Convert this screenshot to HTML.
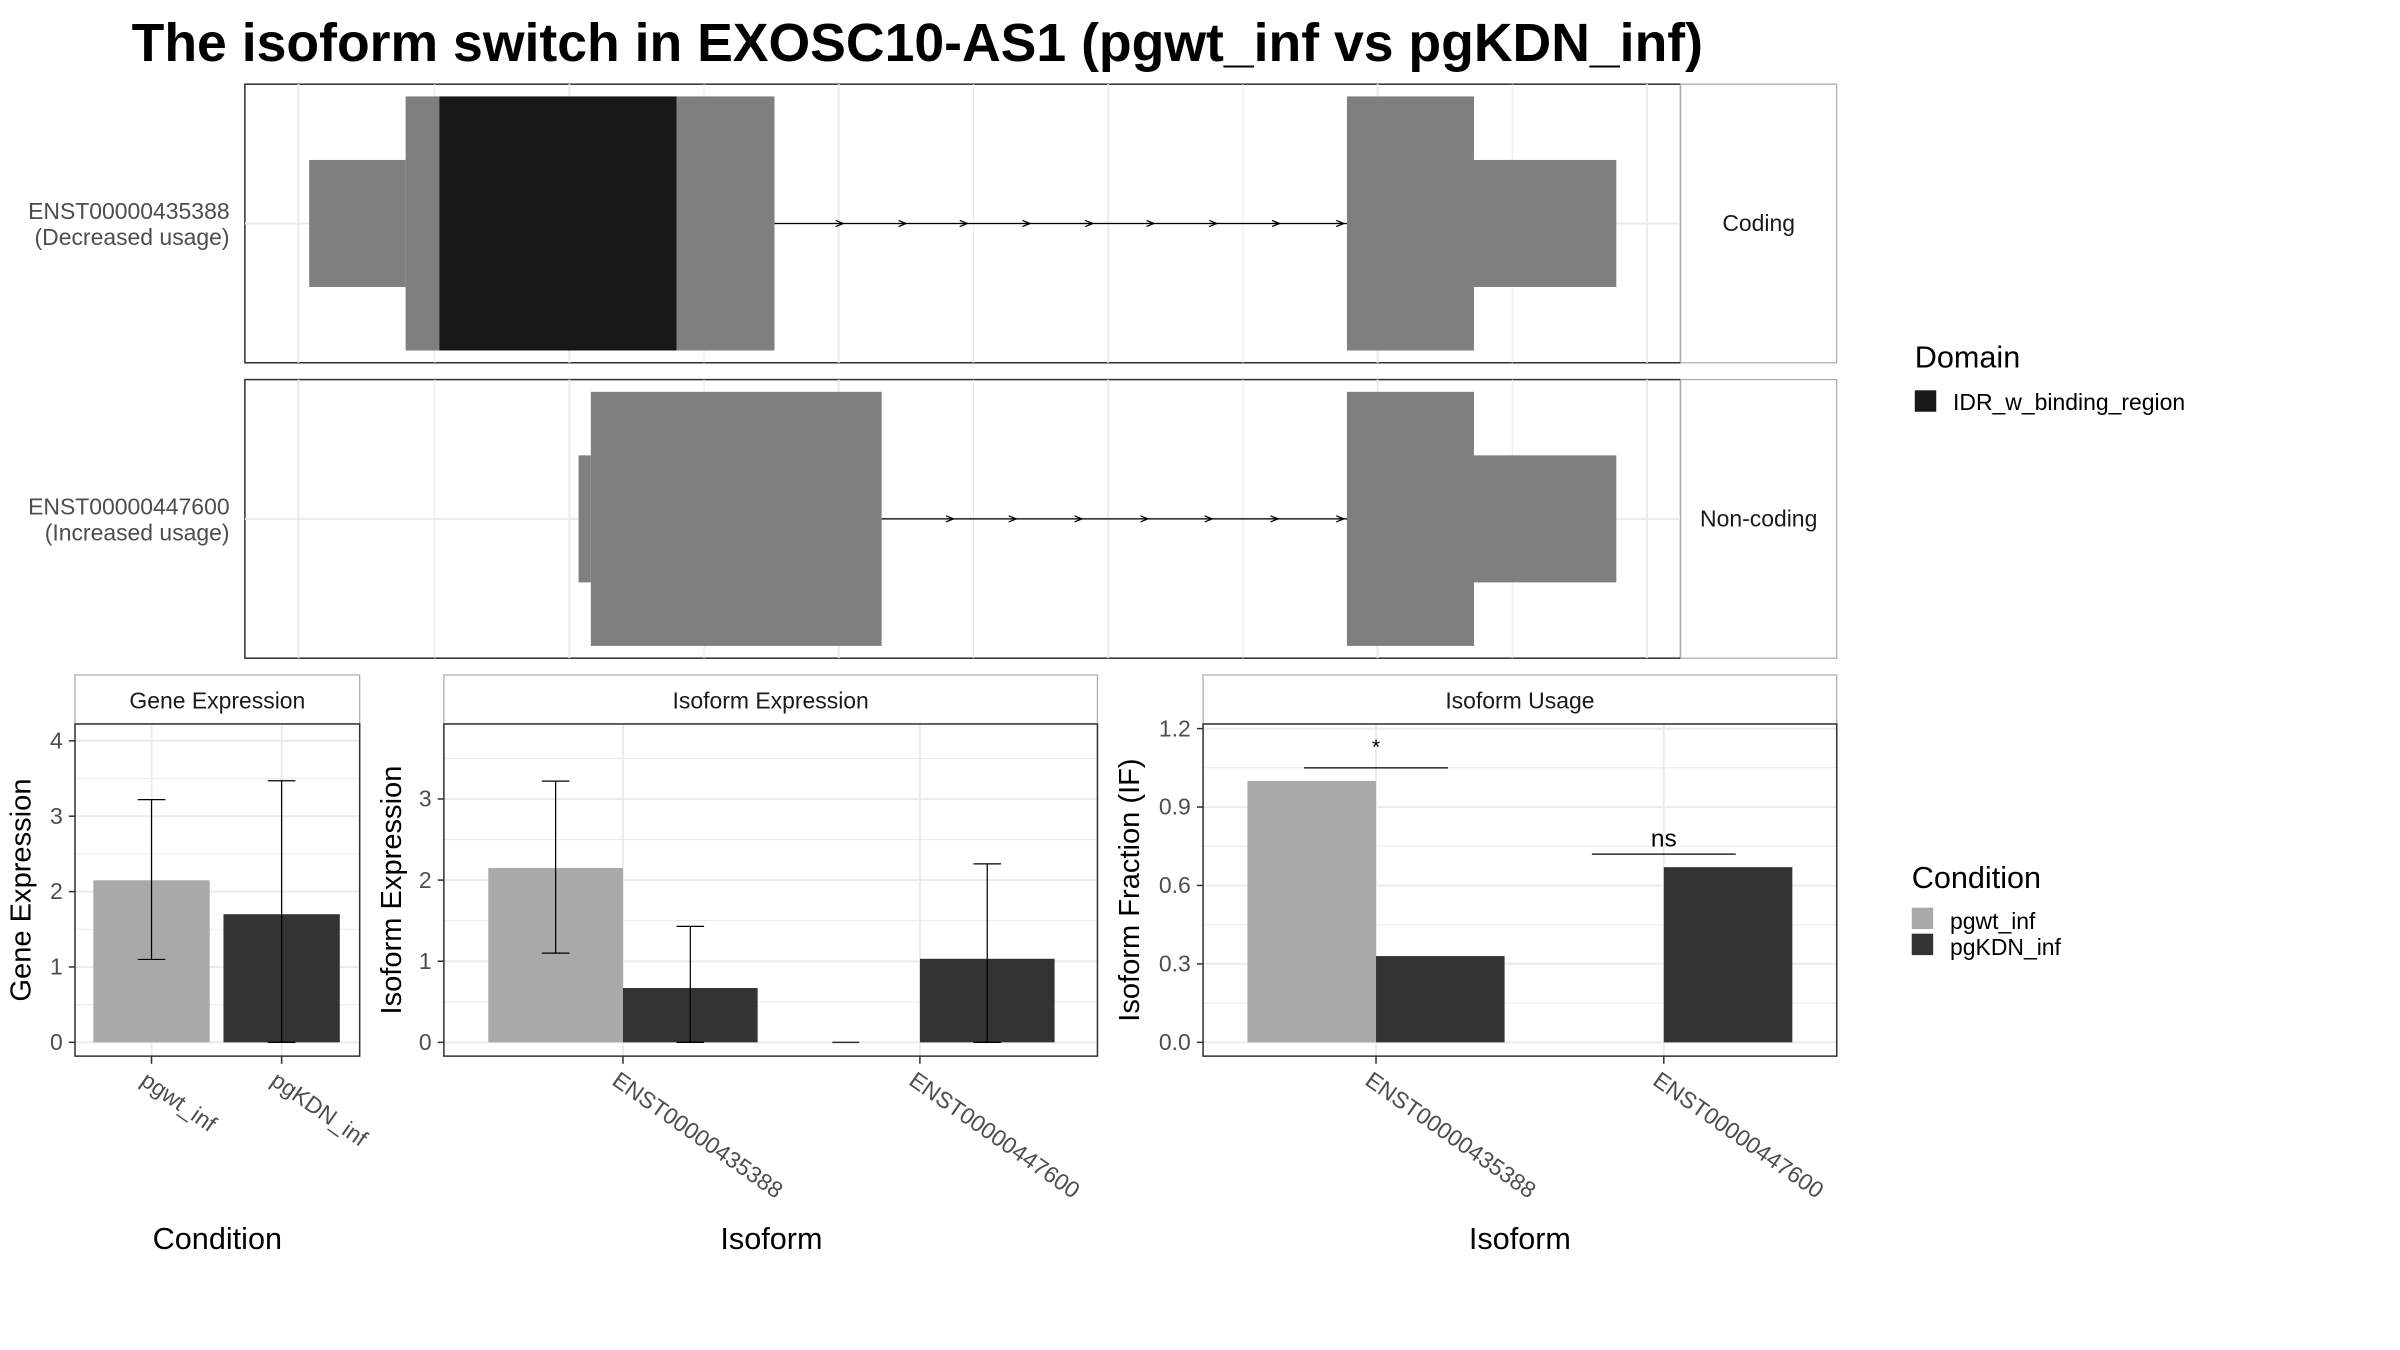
<!DOCTYPE html>
<html><head><meta charset="utf-8"><style>
html,body{margin:0;padding:0;background:#fff}
svg{display:block;font-family:"Liberation Sans",sans-serif}
</style></head><body>
<svg id="s" width="2400" height="1350" viewBox="0 0 1568 882" xmlns="http://www.w3.org/2000/svg">
<defs><marker id="ar" markerWidth="6" markerHeight="6" refX="5" refY="3" orient="auto" markerUnits="userSpaceOnUse"><path d="M0,1 L5,3 L0,5" fill="none" stroke="#000" stroke-width="0.8"/></marker></defs>
<text x="86" y="40" font-size="35" font-weight="bold">The isoform switch in EXOSC10-AS1 (pgwt_inf vs pgKDN_inf)</text>
<g id="topG"></g>
<g id="bottomG"></g>
<g>
<text x="1251" y="240" font-size="20">Domain</text>
<rect x="1251" y="255" width="14" height="14" fill="#181818"/>
<text x="1276" y="268" font-size="15">IDR_w_binding_region</text>
</g>
<g>
<text x="1249" y="580" font-size="20">Condition</text>
<rect x="1249" y="593" width="14" height="14" fill="#a9a9a9"/>
<rect x="1249" y="610" width="14" height="14" fill="#333"/>
<text x="1274" y="607" font-size="15">pgwt_inf</text>
<text x="1274" y="624" font-size="15">pgKDN_inf</text>
</g>
</svg>
<script>
// Transcript data
const transcripts = ["ENST00000435388","ENST00000447600"];
const usageLabels = ["(Decreased usage)","(Increased usage)"];
const codingLabels = ["Coding","Non-coding"];
const t1Exons = [[202,265,"utr"],[265,287,"cds"],[287,442,"dom"],[442,506,"cds"],[880,963,"cds"],[963,1056,"utr"]];
const t2Exons = [[378,386,"utr"],[386,576,"cds"],[880,963,"cds"],[963,1056,"utr"]];
const t1Intron = [506,880];
const t2Intron = [576,880];
const t1Arrows = [551,592,632,673,714,754,795,836,878];
const t2Arrows = [623,664,707,750,792,835,878];

// Bar chart data
const conditions = ["pgwt_inf","pgKDN_inf"];
const geneValues = [2.15,1.70];
const geneErrLow = [1.10,0.00];
const geneErrHigh = [3.22,3.47];
const isoforms = ["ENST00000435388","ENST00000447600"];
const isoExpWt = [2.15,0.00];
const isoExpKd = [0.67,1.03];
const isoExpWtLow = [1.10,0];
const isoExpWtHigh = [3.22,0];
const isoExpKdLow = [0.00,0.00];
const isoExpKdHigh = [1.43,2.20];
const ifWt = [1.00,0.00];
const ifKd = [0.33,0.67];
const sigLabels = ["*","ns"];
const sigY = [1.05,0.72];
const geneTicks = [0,1,2,3,4];
const isoTicks = [0,1,2,3];
const ifTicks = [0,0.3,0.6,0.9,1.2];
const ifTickLabels = ["0.0","0.3","0.6","0.9","1.2"];

const NS="http://www.w3.org/2000/svg";
function mk(parent,tag,attrs,txt){const e=document.createElementNS(NS,tag);for(const k in attrs)e.setAttribute(k,attrs[k]);if(txt!==undefined)e.textContent=txt;parent.appendChild(e);return e;}

const topGroup=document.getElementById('topG');
const panelsY=[55,248], PH=182;
const exonSets=[t1Exons,t2Exons], introns=[t1Intron,t2Intron], arrowSets=[t1Arrows,t2Arrows];
panelsY.forEach((py,i)=>{
  const g=mk(topGroup,'g',{});
  
  
  mk(g,'rect',{x:160,y:py,width:938,height:PH,fill:'#fff',stroke:'#333','stroke-width':1});
  [195,284,372,460,548,636,724,812,900,988,1076].forEach((x,k)=>mk(g,'line',{x1:x,x2:x,y1:py,y2:py+PH,stroke:'#ebebeb','stroke-width':k%2?0.7:1.3}));
  const cy=py+91;
  mk(g,'line',{x1:160,x2:1098,y1:cy,y2:cy,stroke:'#ebebeb','stroke-width':1.3});
  const ir=introns[i];
  mk(g,'line',{x1:ir[0],x2:ir[1],y1:cy,y2:cy,stroke:'#000','stroke-width':0.8});
  arrowSets[i].forEach(a=>mk(g,'line',{x1:a-4,x2:a,y1:cy,y2:cy,stroke:'#000','stroke-width':0.8,'marker-end':'url(#ar)'}));
  exonSets[i].forEach(e=>{
    const thick=e[2]!=='utr', h=thick?166:83;
    const r=mk(g,'rect',{x:e[0],y:cy-h/2,width:e[1]-e[0],height:h,fill:e[2]==='dom'?'#181818':'#7f7f7f'});
    
    
  });
  mk(g,'rect',{x:1098,y:py,width:102,height:PH,fill:'#fff',stroke:'#aaa','stroke-width':0.8});
  mk(g,'text',{x:1149,y:cy+5,'font-size':15,'text-anchor':'middle',fill:'#1a1a1a'},codingLabels[i]);
  mk(g,'text',{x:150,y:cy-3,'font-size':15,'text-anchor':'end',fill:'#4d4d4d'},transcripts[i]);
  mk(g,'text',{x:150,y:cy+14,'font-size':15,'text-anchor':'end',fill:'#4d4d4d'},usageLabels[i]);
});

const botGroup=document.getElementById('bottomG');
const Y0=681, PT=473, PB=690;
function panel(name,x0,x1,title,pxPerUnit,ticks,tickLabels,ytitle,ytitleX,cats,catX,xtitle,xtitleX){
  const g=mk(botGroup,'g',{});
  
  
  const y=v=>Y0-v*pxPerUnit;
  mk(g,'rect',{x:x0,y:441,width:x1-x0,height:32,fill:'#fff',stroke:'#aaa','stroke-width':0.8});
  mk(g,'text',{x:(x0+x1)/2,y:463,'font-size':15,'text-anchor':'middle',fill:'#1a1a1a'},title);
  mk(g,'rect',{x:x0,y:PT,width:x1-x0,height:PB-PT,fill:'#fff'});
  for(let k=0;k<ticks.length;k++){
    mk(g,'line',{x1:x0,x2:x1,y1:y(ticks[k]),y2:y(ticks[k]),stroke:'#ebebeb','stroke-width':1.3});
    if(k<ticks.length-1){const m=(ticks[k]+ticks[k+1])/2;mk(g,'line',{x1:x0,x2:x1,y1:y(m),y2:y(m),stroke:'#ebebeb','stroke-width':0.7});}
    mk(g,'line',{x1:x0-4,x2:x0,y1:y(ticks[k]),y2:y(ticks[k]),stroke:'#333'});
    mk(g,'text',{x:x0-8,y:y(ticks[k])+5,'font-size':15,'text-anchor':'end',fill:'#4d4d4d'},tickLabels[k]);
  }
  const last=ticks[ticks.length-1]+(ticks[1]-ticks[0])/2; if(y(last)>PT) mk(g,'line',{x1:x0,x2:x1,y1:y(last),y2:y(last),stroke:'#ebebeb','stroke-width':0.7});
  catX.forEach((cx,k)=>{
    mk(g,'line',{x1:cx,x2:cx,y1:PT,y2:PB,stroke:'#ebebeb','stroke-width':1.3});
    mk(g,'line',{x1:cx,x2:cx,y1:PB,y2:PB+5,stroke:'#333'});
    mk(g,'text',{x:cx-8,y:PB+18,'font-size':15,fill:'#4d4d4d',transform:`rotate(35 ${cx-8} ${PB+18})`},cats[k]);
  });
  mk(g,'text',{x:ytitleX,y:(PT+PB)/2,'font-size':19,'text-anchor':'middle',transform:`rotate(-90 ${ytitleX} ${(PT+PB)/2})`},ytitle);
  mk(g,'text',{x:xtitleX,y:816,'font-size':20,'text-anchor':'middle'},xtitle);
  return {g,y};
}
function bar(g,x,w,v,y,fill,nm){const r=mk(g,'rect',{x:x,y:y(v),width:w,height:Math.max(0,Y0-y(v)),fill:fill});if(v===0)mk(g,'line',{x1:x+w*0.35,x2:x+w*0.55,y1:Y0,y2:Y0,stroke:'#333'});}
function err(g,cx,lo,hi,y,hw){mk(g,'line',{x1:cx,x2:cx,y1:y(lo),y2:y(hi),stroke:'#000','stroke-width':0.8});mk(g,'line',{x1:cx-hw,x2:cx+hw,y1:y(lo),y2:y(lo),stroke:'#000','stroke-width':0.8});mk(g,'line',{x1:cx-hw,x2:cx+hw,y1:y(hi),y2:y(hi),stroke:'#000','stroke-width':0.8});}
function frame(g,x0,x1){mk(g,'rect',{x:x0,y:PT,width:x1-x0,height:PB-PT,fill:'none',stroke:'#333','stroke-width':1});}

// Gene expression
let p=panel('gene-expression-panel',49,235,'Gene Expression',49.25,geneTicks,geneTicks.map(String),'Gene Expression',20,conditions,[99,184],'Condition',142);
const gCols=['#a9a9a9','#333'];
conditions.forEach((c,k)=>{const cx=[99,184][k];bar(p.g,cx-38,76,geneValues[k],p.y,gCols[k],'bar-'+c);err(p.g,cx,geneErrLow[k],geneErrHigh[k],p.y,9);});
frame(p.g,49,235);

// Isoform expression
p=panel('isoform-expression-panel',290,717,'Isoform Expression',53,isoTicks,isoTicks.map(String),'Isoform Expression',262,isoforms,[407,601],'Isoform',504);
isoforms.forEach((iso,k)=>{const cx=[407,601][k];
  bar(p.g,cx-88,88,isoExpWt[k],p.y,'#a9a9a9','bar-wt-'+iso);
  bar(p.g,cx,88,isoExpKd[k],p.y,'#333','bar-kd-'+iso);
  if(isoExpWtHigh[k]>0)err(p.g,cx-44,isoExpWtLow[k],isoExpWtHigh[k],p.y,9);
  err(p.g,cx+44,isoExpKdLow[k],isoExpKdHigh[k],p.y,9);});
frame(p.g,290,717);

// Isoform usage
p=panel('isoform-usage-panel',786,1200,'Isoform Usage',170.8,ifTicks,ifTickLabels,'Isoform Fraction (IF)',744,isoforms,[899,1087],'Isoform',993);
isoforms.forEach((iso,k)=>{const cx=[899,1087][k];
  if(ifWt[k]>0)bar(p.g,cx-84,84,ifWt[k],p.y,'#a9a9a9','bar-if-wt-'+iso);
  bar(p.g,cx,84,ifKd[k],p.y,'#333','bar-if-kd-'+iso);
  mk(p.g,'line',{x1:cx-47,x2:cx+47,y1:p.y(sigY[k]),y2:p.y(sigY[k]),stroke:'#000','stroke-width':0.8});
  mk(p.g,'text',{x:cx,y:p.y(sigY[k])-(k?5:9),'font-size':k?16:14,'text-anchor':'middle'},sigLabels[k]);});
frame(p.g,786,1200);
</script>
</body></html>
